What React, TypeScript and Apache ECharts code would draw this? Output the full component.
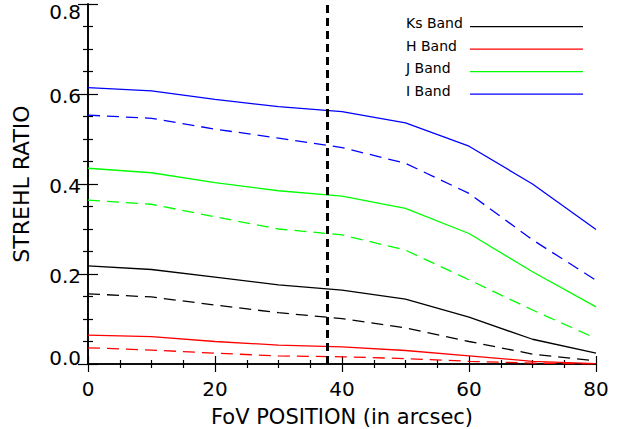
import React, { useEffect, useRef } from "react";
import * as echarts from "echarts";

const fovPositions = [0, 10, 20, 30, 40, 50, 60, 70, 80];
const iBandSolid = [0.614, 0.607, 0.588, 0.572, 0.561, 0.536, 0.484, 0.4, 0.299];
const iBandDashed = [0.553, 0.546, 0.522, 0.502, 0.481, 0.446, 0.379, 0.276, 0.186];
const jBandSolid = [0.435, 0.425, 0.403, 0.385, 0.373, 0.346, 0.29, 0.205, 0.127];
const jBandDashed = [0.364, 0.355, 0.327, 0.3, 0.287, 0.253, 0.187, 0.12, 0.057];
const ksBandSolid = [0.218, 0.21, 0.193, 0.176, 0.164, 0.144, 0.104, 0.055, 0.024];
const ksBandDashed = [0.156, 0.149, 0.131, 0.114, 0.101, 0.08, 0.05, 0.022, 0.007];
const hBandSolid = [0.064, 0.061, 0.05, 0.042, 0.038, 0.03, 0.018, 0.006, 0.001];
const hBandDashed = [0.036, 0.031, 0.024, 0.018, 0.016, 0.012, 0.006, 0.002, 0.0];
const legendNames = ["Ks Band", "H Band", "J Band", "I Band"];
const fovMarker = 37.6;

const FONT = "DejaVu Sans";

function pairs(ys: number[]) {
  return fovPositions.map((x, i) => [x, ys[i]]);
}

export default function App() {
  const ref = useRef<HTMLDivElement>(null);
  useEffect(() => {
    if (!ref.current) return;
    const chart = echarts.init(ref.current, null, { renderer: "svg" });
    const mkLine = (name: string, data: number[], color: string, dashed: boolean) => ({
      name,
      type: "line",
      data: pairs(data),
      symbol: "none",
      showSymbol: false,
      smooth: false,
      lineStyle: { color, width: 1.3, type: dashed ? [12, 7] : "solid" },
      itemStyle: { color },
      z: 3,
    });
    const axisCommon = {
      axisLine: { show: true, lineStyle: { color: "#000", width: 1.6 } },
      splitLine: { show: false },
    };
    const xTick = { show: true, inside: true, length: 8, lineStyle: { color: "#000", width: 1.2 } };
    const xMinor = { show: true, splitNumber: 4, length: 4, lineStyle: { color: "#000", width: 1.2 } };
    const yTick = { show: true, inside: true, length: 10, lineStyle: { color: "#000", width: 1.2 } };
    const yMinor = { show: true, splitNumber: 4, length: 5, lineStyle: { color: "#000", width: 1.2 } };
    const labelRich = {
      top: { color: "#000", fontFamily: FONT, fontSize: 20, padding: [15, 0, 0, 0] },
      mid: { color: "#000", fontFamily: FONT, fontSize: 20, padding: [4, 0, 0, 0] },
      bot: { color: "#000", fontFamily: FONT, fontSize: 20, padding: [0, 0, 12, 0] },
    };
    chart.setOption({
      animation: false,
      backgroundColor: "#fff",
      grid: { left: 88, right: 27, top: 4, bottom: 65, containLabel: false, outerBoundsMode: "none" },
      xAxis: [
        {
          type: "value",
          min: 0,
          max: 80,
          interval: 20,
          position: "bottom",
          ...axisCommon,
          axisTick: xTick,
          minorTick: xMinor,
          axisLabel: { color: "#000", fontFamily: FONT, fontSize: 20, margin: 15 },
          name: "FoV POSITION (in arcsec)",
          nameLocation: "middle",
          nameGap: 42,
          nameTextStyle: { color: "#000", fontFamily: FONT, fontSize: 21 },
        },
        {
          type: "value",
          min: 0,
          max: 80,
          interval: 20,
          position: "top",
          ...axisCommon,
          axisTick: xTick,
          minorTick: xMinor,
          axisLabel: { show: false },
        },
      ],
      yAxis: [
        {
          type: "value",
          min: 0,
          max: 0.8,
          interval: 0.2,
          position: "left",
          ...axisCommon,
          axisTick: yTick,
          minorTick: yMinor,
          axisLabel: {
            color: "#000",
            fontFamily: FONT,
            fontSize: 20,
            margin: 7,
            formatter: (v: number) => {
              const s = v.toFixed(1);
              if (Math.abs(v - 0.8) < 1e-6) return "{top|" + s + "}";
              if (Math.abs(v) < 1e-6) return "{bot|" + s + "}";
              return "{mid|" + s + "}";
            },
            rich: labelRich,
          },
          name: "STREHL RATIO",
          nameLocation: "middle",
          nameGap: 56,
          nameTextStyle: { color: "#000", fontFamily: FONT, fontSize: 22 },
        },
        {
          type: "value",
          min: 0,
          max: 0.8,
          interval: 0.2,
          position: "right",
          ...axisCommon,
          axisTick: yTick,
          minorTick: yMinor,
          axisLabel: { show: false },
        },
      ],
      legend: [
        {
          data: legendNames,
          orient: "vertical",
          left: 401,
          top: 14,
          padding: 0,
          itemWidth: 0,
          itemHeight: 18,
          itemGap: 4.5,
          icon: "none",
          align: "left",
          selectedMode: false,
          textStyle: { color: "#000", fontFamily: FONT, fontSize: 14, lineHeight: 18 },
        },
        {
          data: legendNames.map((n) => ({ name: n, icon: "path://M0,0 H113 V1.3 H0 Z" })),
          orient: "vertical",
          left: 470,
          top: 17.7,
          padding: 0,
          itemWidth: 113,
          itemHeight: 18,
          itemGap: 4.5,
          align: "left",
          selectedMode: false,
          formatter: () => " ",
          textStyle: { color: "#000", fontFamily: FONT, fontSize: 14, lineHeight: 18 },
        },
      ],
      series: [
        {
          ...mkLine("Ks Band", ksBandSolid, "#000000", false),
          markLine: {
            silent: true,
            symbol: "none",
            label: { show: false },
            lineStyle: { color: "#000", width: 3, type: [8, 5] },
            data: [{ xAxis: fovMarker }],
          },
        },
        mkLine("Ks Band dashed", ksBandDashed, "#000000", true),
        mkLine("H Band", hBandSolid, "#ff0000", false),
        mkLine("H Band dashed", hBandDashed, "#ff0000", true),
        mkLine("J Band", jBandSolid, "#00ff00", false),
        mkLine("J Band dashed", jBandDashed, "#00ff00", true),
        mkLine("I Band", iBandSolid, "#0000ff", false),
        mkLine("I Band dashed", iBandDashed, "#0000ff", true),
      ],
    });
    return () => chart.dispose();
  }, []);
  return (
    <div
      ref={ref}
      style={{ position: "fixed", left: 0, top: 0, width: 623, height: 429, background: "#fff" }}
    />
  );
}
